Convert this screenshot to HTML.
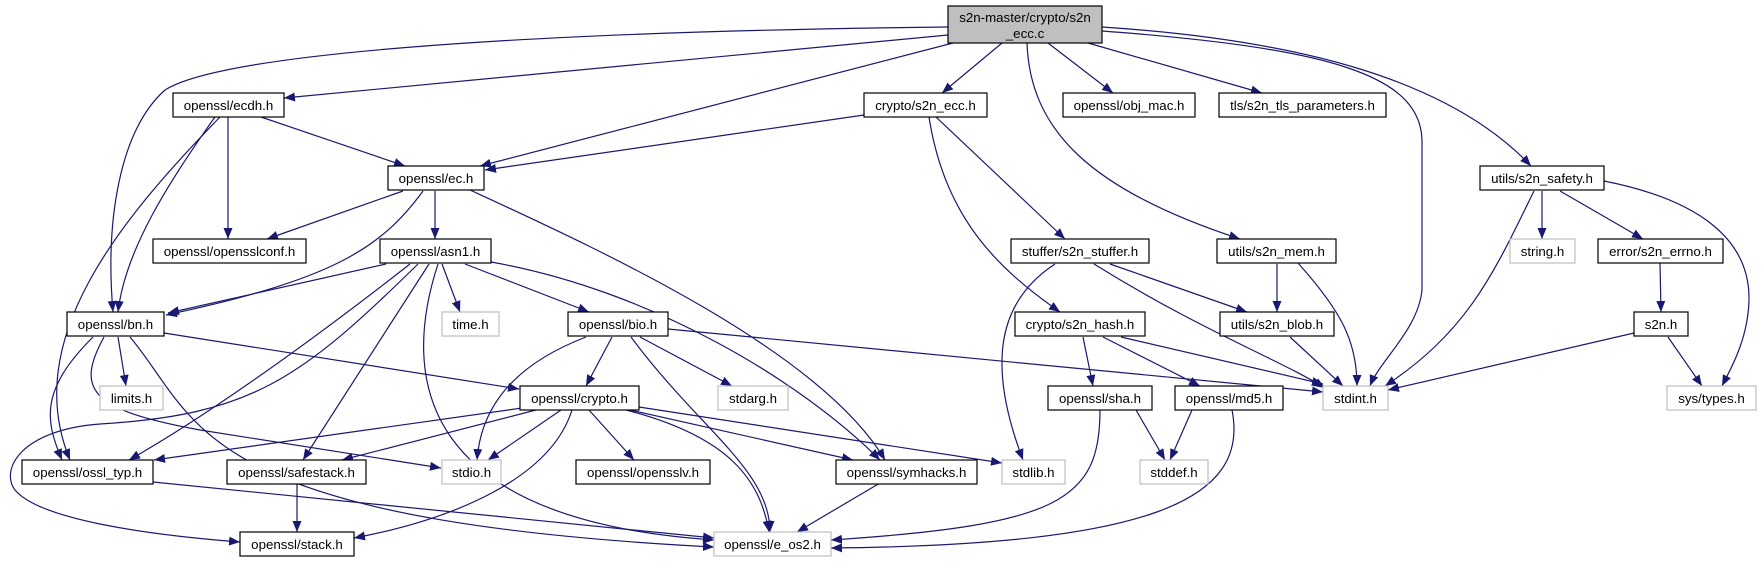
<!DOCTYPE html>
<html><head><meta charset="utf-8"><style>
html,body{margin:0;padding:0;background:#fff;}
svg{display:block;}
text{font-family:"Liberation Sans",Arial,sans-serif;font-size:13.3px;fill:#000;}
</style></head><body>
<svg width="1761" height="563" viewBox="0 0 1761 563" xmlns="http://www.w3.org/2000/svg">
<defs>
<marker id="a" markerUnits="userSpaceOnUse" markerWidth="12" markerHeight="9" refX="11" refY="4.5" orient="auto">
<polygon points="0,0 11,4.5 0,9" fill="#191970"/>
</marker>
</defs>
<g fill="none" stroke="#191970" stroke-width="1.2" marker-end="url(#a)">
<path d="M948,35 L284,98"/>
<path d="M948,27 C500,32 220,55 165,90 C120,130 105,220 113,312"/>
<path d="M953,43 L480,166"/>
<path d="M864,115 L485,170"/>
<path d="M1002,43 L942,93"/>
<path d="M1048,43 L1113,93"/>
<path d="M1088,43 L1262,93"/>
<path d="M1027,43 C1030,130 1090,190 1240,239"/>
<path d="M1102,31 C1330,48 1420,75 1422,140 L1422,290 C1418,330 1380,360 1370,386"/>
<path d="M1102,27 C1300,40 1450,80 1531,166"/>
<path d="M261,117 L405,166"/>
<path d="M228,117 L228,239"/>
<path d="M215,117 C170,180 125,250 118,312"/>
<path d="M220,117 C120,220 20,340 70,460"/>
<path d="M936,117 L1065,239"/>
<path d="M929,117 C945,220 1000,270 1060,312"/>
<path d="M403,191 L267,239"/>
<path d="M435,191 L435,239"/>
<path d="M423,191 C380,250 330,280 166,315"/>
<path d="M470,190 C600,250 820,350 885,460"/>
<path d="M386,264 L168,313"/>
<path d="M442,264 L460,312"/>
<path d="M465,264 L589,312"/>
<path d="M491,262 C650,290 800,380 880,460"/>
<path d="M429,264 L303,460"/>
<path d="M438,264 C400,380 420,520 714,540"/>
<path d="M418,264 C300,380 250,415 100,424 C20,430 0,470 15,490 C40,520 150,535 240,542"/>
<path d="M410,264 C300,350 200,420 129,460"/>
<path d="M118,337 L126,386"/>
<path d="M164,333 L519,389"/>
<path d="M93,337 C40,390 45,420 62,460"/>
<path d="M104,337 C75,390 90,410 200,430 L441,468"/>
<path d="M130,337 C200,420 190,520 714,547"/>
<path d="M612,337 L586,386"/>
<path d="M586,337 C500,370 480,420 477,460"/>
<path d="M640,337 L732,386"/>
<path d="M631,337 C700,430 770,470 770,532"/>
<path d="M668,329 L1323,392"/>
<path d="M522,408 L154,460"/>
<path d="M536,410 L342,460"/>
<path d="M561,410 L488,460"/>
<path d="M589,410 L634,460"/>
<path d="M572,410 C550,480 450,520 354,538"/>
<path d="M626,410 C730,437 760,480 769,532"/>
<path d="M630,410 L853,460"/>
<path d="M639,407 L1002,463"/>
<path d="M153,482 L714,538"/>
<path d="M297,483 L297,532"/>
<path d="M880,483 L797,532"/>
<path d="M1100,410 C1100,500 1060,525 831,540"/>
<path d="M1232,410 C1250,500 1150,545 831,548"/>
<path d="M1055,264 C1000,300 985,360 1023,460"/>
<path d="M1094,264 C1200,330 1280,360 1325,388"/>
<path d="M1110,264 L1247,312"/>
<path d="M1277,264 L1277,312"/>
<path d="M1298,263 C1340,310 1357,340 1357,386"/>
<path d="M1083,337 L1093,386"/>
<path d="M1103,337 L1200,386"/>
<path d="M1121,337 L1323,384"/>
<path d="M1290,337 L1343,386"/>
<path d="M1634,333 L1388,390"/>
<path d="M1668,337 L1702,386"/>
<path d="M1604,181 C1700,200 1750,240 1749,300 C1748,340 1730,370 1722,386"/>
<path d="M1542,191 L1542,239"/>
<path d="M1560,191 L1643,239"/>
<path d="M1660,263 L1661,312"/>
<path d="M1534,191 C1495,270 1470,330 1385,386"/>
<path d="M1136,410 L1165,460"/>
<path d="M1192,410 L1170,460"/>
</g>
<g stroke-width="1.2">
<rect x="948" y="6" width="154" height="37" fill="#bfbfbf" stroke="#000"/>
<text x="1025" y="22" text-anchor="middle">s2n-master/crypto/s2n</text>
<text x="1025" y="38" text-anchor="middle">_ecc.c</text>
</g>
<g stroke-width="1.2" fill="#fff">
<rect x="173" y="93" width="111" height="24" stroke="#000"/>
<rect x="864" y="93" width="123" height="24" stroke="#000"/>
<rect x="1063" y="93" width="132" height="24" stroke="#000"/>
<rect x="1219" y="93" width="167" height="24" stroke="#000"/>
<rect x="388" y="166" width="96" height="24" stroke="#000"/>
<rect x="1480" y="166" width="124" height="24" stroke="#000"/>
<rect x="153" y="239" width="153" height="24" stroke="#000"/>
<rect x="380" y="239" width="111" height="24" stroke="#000"/>
<rect x="1011" y="239" width="138" height="24" stroke="#000"/>
<rect x="1217" y="239" width="119" height="24" stroke="#000"/>
<rect x="1510" y="239" width="65" height="24" stroke="#bfbfbf"/>
<rect x="1598" y="239" width="125" height="24" stroke="#000"/>
<rect x="67" y="312" width="97" height="24" stroke="#000"/>
<rect x="442" y="312" width="57" height="24" stroke="#bfbfbf"/>
<rect x="568" y="312" width="100" height="24" stroke="#000"/>
<rect x="1015" y="312" width="130" height="24" stroke="#000"/>
<rect x="1220" y="312" width="114" height="24" stroke="#000"/>
<rect x="1634" y="312" width="54" height="24" stroke="#000"/>
<rect x="100" y="386" width="63" height="24" stroke="#bfbfbf"/>
<rect x="520" y="386" width="119" height="24" stroke="#000"/>
<rect x="718" y="386" width="70" height="24" stroke="#bfbfbf"/>
<rect x="1048" y="386" width="104" height="24" stroke="#000"/>
<rect x="1175" y="386" width="108" height="24" stroke="#000"/>
<rect x="1323" y="386" width="65" height="24" stroke="#bfbfbf"/>
<rect x="1667" y="386" width="89" height="24" stroke="#bfbfbf"/>
<rect x="22" y="460" width="131" height="24" stroke="#000"/>
<rect x="227" y="460" width="139" height="24" stroke="#000"/>
<rect x="442" y="460" width="59" height="24" stroke="#bfbfbf"/>
<rect x="576" y="460" width="134" height="24" stroke="#000"/>
<rect x="836" y="460" width="141" height="24" stroke="#000"/>
<rect x="1002" y="460" width="63" height="24" stroke="#bfbfbf"/>
<rect x="1140" y="460" width="68" height="24" stroke="#bfbfbf"/>
<rect x="240" y="532" width="114" height="24" stroke="#000"/>
<rect x="714" y="532" width="117" height="24" stroke="#bfbfbf"/>
</g>
<g text-anchor="middle">
<text x="228.5" y="110">openssl/ecdh.h</text>
<text x="925.5" y="110">crypto/s2n_ecc.h</text>
<text x="1129" y="110">openssl/obj_mac.h</text>
<text x="1302.5" y="110">tls/s2n_tls_parameters.h</text>
<text x="436" y="183">openssl/ec.h</text>
<text x="1542" y="183">utils/s2n_safety.h</text>
<text x="229.5" y="256">openssl/opensslconf.h</text>
<text x="435.5" y="256">openssl/asn1.h</text>
<text x="1080" y="256">stuffer/s2n_stuffer.h</text>
<text x="1276.5" y="256">utils/s2n_mem.h</text>
<text x="1542.5" y="256">string.h</text>
<text x="1660.5" y="256">error/s2n_errno.h</text>
<text x="115.5" y="329">openssl/bn.h</text>
<text x="470.5" y="329">time.h</text>
<text x="618" y="329">openssl/bio.h</text>
<text x="1080" y="329">crypto/s2n_hash.h</text>
<text x="1277" y="329">utils/s2n_blob.h</text>
<text x="1661" y="329">s2n.h</text>
<text x="131.5" y="403">limits.h</text>
<text x="579.5" y="403">openssl/crypto.h</text>
<text x="753" y="403">stdarg.h</text>
<text x="1100" y="403">openssl/sha.h</text>
<text x="1229" y="403">openssl/md5.h</text>
<text x="1355.5" y="403">stdint.h</text>
<text x="1711.5" y="403">sys/types.h</text>
<text x="87.5" y="477">openssl/ossl_typ.h</text>
<text x="296.5" y="477">openssl/safestack.h</text>
<text x="471.5" y="477">stdio.h</text>
<text x="643" y="477">openssl/opensslv.h</text>
<text x="906.5" y="477">openssl/symhacks.h</text>
<text x="1033.5" y="477">stdlib.h</text>
<text x="1174" y="477">stddef.h</text>
<text x="297" y="549">openssl/stack.h</text>
<text x="772.5" y="549">openssl/e_os2.h</text>
</g>
</svg>
</body></html>
